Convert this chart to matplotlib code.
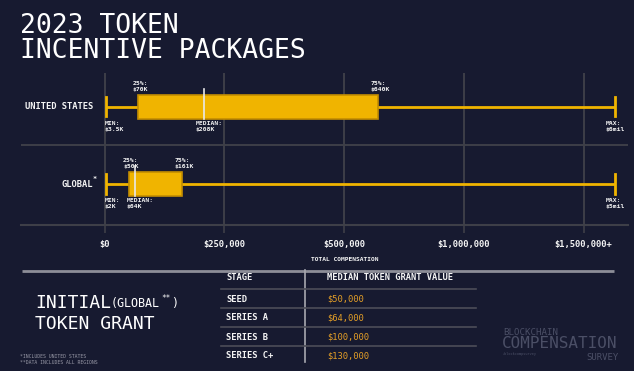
import matplotlib
matplotlib.use("Agg")
import matplotlib.pyplot as plt
import numpy as np

# ---------------- data ----------------
regions = ["UNITED STATES", "GLOBAL"]
region_marks = ["", "*"]
mins = [3_500, 2_000]
q1s = [70_000, 50_000]
medians = [208_000, 64_000]
q3s = [640_000, 161_000]
maxs = [6_000_000, 5_000_000]
min_labels = ["$3.5K", "$2K"]
q1_labels = ["$70K", "$50K"]
med_labels = ["$208K", "$64K"]
q3_labels = ["$640K", "$161K"]
max_labels = ["$6mil", "$5mil"]

tick_values = [0, 250_000, 500_000, 1_000_000, 1_500_000]
tick_labels = ["$0", "$250,000", "$500,000", "$1,000,000", "$1,500,000+"]

stages = ["SEED", "SERIES A", "SERIES B", "SERIES C+"]
stage_values = ["$50,000", "$64,000", "$100,000", "$130,000"]

# ---------------- style ----------------
BG = "#171a30"
GOLD = "#f0b400"
GOLD_EDGE = "#c48e00"
GRID = "#3e3f48"
WHITE = "#f4f4f4"
ORANGE = "#e6a027"
MONO = ["DejaVu Sans Mono"]

W, H = 634, 371
fig = plt.figure(figsize=(W / 100, H / 100), dpi=100, facecolor=BG)


def fx(v):
    """piecewise compensation scale: linear to 500k, then compressed, capped"""
    v = np.asarray(v, dtype=float)
    out = np.where(v <= 500_000, v / 250_000, 2 + (v - 500_000) / 500_000)
    return np.minimum(out, 4.26)


# main axes in pixel box
L, R, T, B = 21, 628, 73, 225
ax = fig.add_axes([L / W, 1 - B / H, (R - L) / W, (B - T) / H])
ax.set_facecolor(BG)
pxu = (583.5 - 104.7) / 4
ax.set_xlim((L - 104.7) / pxu, (R - 104.7) / pxu)
ax.set_ylim(1.53, -0.436)

for s in ["top", "left", "right"]:
    ax.spines[s].set_visible(False)
ax.spines["bottom"].set_color(GRID)
ax.spines["bottom"].set_linewidth(1.5)

ax.set_xticks(fx(tick_values))
ax.set_xticklabels(tick_labels, fontfamily=MONO, fontweight="bold",
                   fontsize=6.3, color=WHITE)
ax.tick_params(axis="x", length=6, width=1.2, color=GRID, pad=5)
ax.set_yticks([])
for xt in fx(tick_values):
    ax.axvline(xt, color=GRID, lw=1.4, zorder=0)
ax.axhline(0.5, color=GRID, lw=1.4, zorder=0)

bh = 0.31
for i in range(len(regions)):
    xmn, x1, xm, x3, xmx = fx([mins[i], q1s[i], medians[i], q3s[i], maxs[i]])
    ax.plot([xmn, xmx], [i, i], color=GOLD, lw=2, zorder=2, solid_capstyle="butt")
    ax.plot([xmn, xmn], [i - 0.125, i + 0.125], color=GOLD, lw=2, zorder=2)
    ax.plot([xmx, xmx], [i - 0.125, i + 0.125], color=GOLD, lw=2, zorder=2)
    ax.add_patch(plt.Rectangle((x1, i - bh / 2), x3 - x1, bh, facecolor=GOLD,
                               edgecolor=GOLD_EDGE, lw=1.2, zorder=3))
    ax.plot([xm, xm], [i - bh / 2 - 0.08, i + bh / 2], color="#e8e8e8", lw=1.2, zorder=4)

    kw = dict(fontfamily=MONO, fontweight="bold", fontsize=4.6, color=WHITE,
              textcoords="offset points", linespacing=1.35, zorder=5)
    ax.annotate(f"25%:\n{q1_labels[i]}", (x1, i - bh / 2), xytext=(-4, 2),
                ha="left", va="bottom", **kw)
    ax.annotate(f"75%:\n{q3_labels[i]}", (x3, i - bh / 2), xytext=(-5, 2),
                ha="left", va="bottom", **kw)
    ax.annotate(f"MIN:\n{min_labels[i]}", (xmn, i + bh / 2), xytext=(-1, -1.5),
                ha="left", va="top", **kw)
    ax.annotate(f"MEDIAN:\n{med_labels[i]}", (xm, i + bh / 2), xytext=(-6.5, -1.5),
                ha="left", va="top", **kw)
    ax.annotate(f"MAX:\n{max_labels[i]}", (xmx, i + bh / 2), xytext=(-6.5, -1.5),
                ha="left", va="top", **kw)

    lx = (93 - 104.7) / pxu
    ax.text(lx, i, regions[i], ha="right", va="center", fontfamily=MONO,
            fontweight="bold", fontsize=6.3, color=WHITE)
    if region_marks[i]:
        ax.annotate(region_marks[i], (lx, i), xytext=(-0.6, 1.6),
                    textcoords="offset points", ha="left", va="bottom",
                    fontfamily=MONO, fontweight="bold", fontsize=5, color=WHITE)

ax.text((345 - L) / (R - L), -0.225, "TOTAL COMPENSATION", transform=ax.transAxes,
        ha="center", va="center", fontfamily=MONO, fontweight="bold",
        fontsize=4.5, color=WHITE)

# overlay for the rest, in pixel coordinates
ov = fig.add_axes([0, 0, 1, 1], facecolor="none")
ov.set_xlim(0, W)
ov.set_ylim(H, 0)
ov.axis("off")

ov.text(20, 33, "2023 TOKEN", fontfamily=MONO, fontsize=19, color="white",
        va="baseline", ha="left")
ov.text(20, 58, "INCENTIVE PACKAGES", fontfamily=MONO, fontsize=19, color="white",
        va="baseline", ha="left")

ov.plot([22, 614], [271, 271], color="#8d8e98", lw=2, solid_capstyle="butt")

ov.text(35, 308, "INITIAL", fontfamily=MONO, fontsize=13, color="white",
        va="baseline", ha="left")
ov.text(111, 307, "(GLOBAL", fontfamily=MONO, fontsize=8.4, color="white",
        va="baseline", ha="left")
ov.text(161.5, 301, "**", fontfamily=MONO, fontsize=5.5, color="white",
        va="baseline", ha="left")
ov.text(171.5, 307, ")", fontfamily=MONO, fontsize=8.4, color="white",
        va="baseline", ha="left")
ov.text(35, 329, "TOKEN GRANT", fontfamily=MONO, fontsize=13, color="white",
        va="baseline", ha="left")

ov.text(20, 357, "*INCLUDES UNITED STATES", fontfamily=MONO, fontsize=3.4,
        color="#9a9aa8", va="center", ha="left")
ov.text(20, 362, "**DATA INCLUDES ALL REGIONS", fontfamily=MONO, fontsize=3.4,
        color="#9a9aa8", va="center", ha="left")

# table
ov.text(226, 277, "STAGE", fontfamily=MONO, fontweight="bold", fontsize=6.3,
        color=WHITE, va="center", ha="left")
ov.text(327, 277, "MEDIAN TOKEN GRANT VALUE", fontfamily=MONO, fontweight="bold",
        fontsize=6.3, color=WHITE, va="center", ha="left")
ov.plot([305, 305], [270, 362], color="#a8a8b0", lw=1.2)
for yl in [289, 308, 327, 346]:
    ov.plot([221, 476], [yl, yl], color="#4c4d58", lw=1.2)
row_y = [299, 318, 337, 356]
for k in range(len(stages)):
    ov.text(226, row_y[k], stages[k], fontfamily=MONO, fontweight="bold",
            fontsize=6.3, color=WHITE, va="center", ha="left")
    ov.text(327, row_y[k], stage_values[k], fontfamily=MONO,
            fontsize=6.3, color=ORANGE, va="center", ha="left")

# watermark
WM = "#4b4f66"
ov.text(503, 335, "BLOCKCHAIN", fontfamily=MONO, fontsize=6.6, color=WM,
        va="baseline", ha="left")
ov.text(502, 348.5, "COMPENSATION", fontfamily=MONO, fontsize=11.5, color=WM,
        va="baseline", ha="left")
ov.text(619, 360, "SURVEY", fontfamily=MONO, fontsize=6.5, color=WM,
        va="baseline", ha="right")
ov.text(503, 355.5, "/blockcompsurvey", fontfamily=MONO, fontsize=2.5, color=WM,
        va="baseline", ha="left")

fig.savefig("out.png", dpi=100, facecolor=BG)
